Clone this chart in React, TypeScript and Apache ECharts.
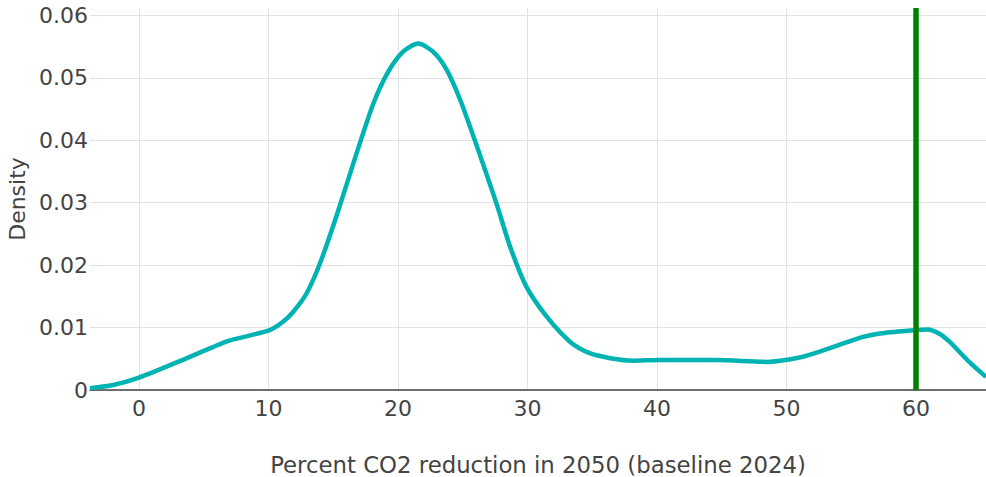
import React, { useEffect, useRef } from "react";
import * as echarts from "echarts";

const xValues = [-3.78, -2, 0, 3, 6.8, 8.5, 10.1, 11.1, 11.9, 12.95, 13.98, 15.27, 16.8, 18.1, 19.25, 20.4, 21.57, 22.7, 23.76, 24.8, 26.1, 27.6, 28.65, 29.9, 31.5, 33.3, 34.8, 36.4, 38.1, 40.2, 44.6, 48.5, 51.0, 52.5, 55.9, 57.4, 60, 60.9, 61.8, 62.6, 64.1, 65.4];
const densityValues = [0.0003, 0.0008, 0.002, 0.0045, 0.0078, 0.0087, 0.0096, 0.0109, 0.0125, 0.0155, 0.0203, 0.028, 0.0379, 0.0459, 0.051, 0.0542, 0.0555, 0.0542, 0.0513, 0.0465, 0.039, 0.0299, 0.023, 0.0166, 0.0117, 0.0077, 0.0059, 0.0051, 0.0047, 0.0048, 0.0048, 0.0045, 0.0052, 0.0061, 0.0085, 0.0091, 0.0096, 0.0097, 0.009, 0.0077, 0.0045, 0.0021];
const xTicks = [0, 10, 20, 30, 40, 50, 60];
const yTicks = [0, 0.01, 0.02, 0.03, 0.04, 0.05, 0.06];
const targetValue = 60;

const FONT = "DejaVu Sans";
const TEXT = "#444";

export default function App() {
  const ref = useRef<HTMLDivElement>(null);
  useEffect(() => {
    if (!ref.current) return;
    const chart = echarts.init(ref.current, undefined, { renderer: "svg" });
    chart.setOption({
      animation: false,
      backgroundColor: "#fff",
      grid: { left: 90, right: 0, top: 8, bottom: 87, containLabel: false, outerBoundsMode: "none" },
      xAxis: {
        type: "value",
        min: -3.78,
        max: 65.4,
        name: "Percent CO2 reduction in 2050 (baseline 2024)",
        nameLocation: "middle",
        nameGap: 63,
        nameTextStyle: { fontFamily: FONT, fontSize: 22.8, color: TEXT },
        axisLine: { show: true, onZero: true, lineStyle: { color: TEXT, width: 1.5 } },
        axisTick: { show: false, customValues: xTicks },
        axisLabel: { customValues: xTicks, fontFamily: FONT, fontSize: 22, color: TEXT, margin: 7 },
        splitLine: { show: true, lineStyle: { color: "#e2e2e2", width: 1 } },
      },
      yAxis: {
        type: "value",
        min: 0,
        max: 0.0612,
        name: "Density",
        nameLocation: "middle",
        nameGap: 54,
        nameRotate: 90,
        nameTextStyle: { fontFamily: FONT, fontSize: 22, color: TEXT },
        axisLine: { show: false },
        axisTick: { show: false, customValues: yTicks },
        axisLabel: {
          customValues: yTicks,
          fontFamily: FONT,
          fontSize: 22,
          color: TEXT,
          margin: 2,
          formatter: (v: number) => (v === 0 ? "0" : v.toFixed(2)),
        },
        splitLine: { show: true, lineStyle: { color: "#e2e2e2", width: 1 } },
      },
      series: [
        {
          type: "line",
          data: xValues.map((x, i) => [x, densityValues[i]]),
          smooth: 0.25,
          showSymbol: false,
          lineStyle: { color: "#00b3b3", width: 4.5 },
          markLine: {
            silent: true,
            symbol: "none",
            label: { show: false },
            lineStyle: { color: "#008000", width: 5.5, type: "solid" },
            data: [{ xAxis: targetValue }],
          },
        },
      ],
    });
    return () => chart.dispose();
  }, []);
  return (
    <div
      ref={ref}
      style={{ position: "fixed", left: 0, top: 0, width: 986, height: 477 }}
    />
  );
}
